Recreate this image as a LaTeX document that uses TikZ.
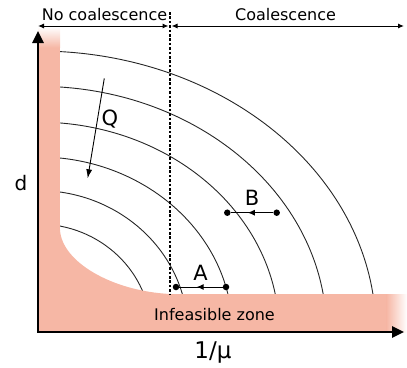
\documentclass[tikz,border=0pt]{standalone}
\usepackage{fontspec}
\setmainfont{DejaVu Sans}
\usetikzlibrary{arrows.meta,decorations.markings}
\definecolor{pinkzone}{RGB}{246,183,165}
\begin{document}
\begin{tikzpicture}[x=1pt,y=-1pt,
  arcline/.style={line width=0.9pt, black!85},
  dotnode/.style={circle, fill=black, inner sep=0pt, minimum size=6.5pt},
  lbl/.style={inner sep=0pt, anchor=base},
  midarrow/.style={postaction={decorate}, decoration={markings, mark=at position 0.6 with {\arrow{Latex[length=7pt,width=6pt]}}}},
  smalltip/.style={line width=1pt, {Latex[length=6pt,width=5pt]}-{Latex[length=6pt,width=5pt]}},
]
\useasboundingbox (0,0) rectangle (407,367);
% arcs
\foreach \a/\b in {338/281, 288.6/245.7, 241.2/209.9, 194.5/175.1, 149.8/141.5, 113/108}
  \draw[arcline] (38+\a,332) arc[start angle=0, end angle=90, x radius=\a pt, y radius=\b pt];
% infeasible zone
\fill[pinkzone] (38,47) rectangle (60,332);
\shade[top color=white, bottom color=pinkzone] (38,27) rectangle (60,47.5);
\fill[pinkzone] (38,294) rectangle (387,332);
\shade[left color=pinkzone, right color=white] (386.5,294) rectangle (407,332);
\fill[pinkzone] (60,230) .. controls (62,262) and (112,291) .. (170,294) -- (60,294) -- cycle;
% dotted separator
\coordinate (dtop) at (170,12);
\coordinate (dbot) at (170,294);
\draw[line width=1.3pt, dash pattern=on 2.6pt off 1.8pt] (dtop) -- (dbot);
% axes
\coordinate (O) at (38,332);
\coordinate (yend) at (38,31);
\coordinate (xend) at (404,332);
\draw[line width=2.6pt, {Triangle[length=12pt,width=11pt]}-{Triangle[length=12pt,width=11pt]}] (yend) -- (O) -- (xend);
% top range arrows
\coordinate (l1) at (38,26);
\coordinate (l2) at (168.5,26);
\coordinate (r1) at (171.5,26);
\coordinate (r2) at (404,26);
\draw[smalltip] (l1) -- (l2);
\draw[smalltip] (r1) -- (r2);
% labels
\node[lbl, font=\fontsize{16}{19}\selectfont] (nc) at (104.5,20) {No coalescence};
\node[lbl, font=\fontsize{16}{19}\selectfont] (co) at (285.5,20) {Coalescence};
\node[lbl, font=\fontsize{16}{19}\selectfont] (inf) at (214.5,320) {Infeasible zone};
\node[lbl, font=\fontsize{20}{24}\selectfont] (d) at (21,190) {d};
\node[lbl, font=\fontsize{23}{27}\selectfont] (mu) at (213,358) {1/μ};
\node[lbl, font=\fontsize{21}{25}\selectfont] (q) at (110,125) {Q};
\node[lbl, font=\fontsize{21}{25}\selectfont] (bl) at (252,205) {B};
\node[lbl, font=\fontsize{21}{25}\selectfont] (al) at (200.5,280) {A};
% Q arrow
\coordinate (q1) at (104.3,78.3);
\coordinate (q2) at (87.7,178.3);
\draw[line width=0.9pt, -{Latex[length=9pt,width=6pt]}] (q1) -- (q2);
% B
\node[dotnode] (b1) at (227.3,212.7) {};
\node[dotnode] (b2) at (276.7,212.7) {};
\draw[line width=1pt, midarrow] (b2) -- (b1);
% A
\node[dotnode] (a1) at (176,287) {};
\node[dotnode] (a2) at (226,287) {};
\draw[line width=1pt, midarrow] (a2) -- (a1);
\end{tikzpicture}
\end{document}
